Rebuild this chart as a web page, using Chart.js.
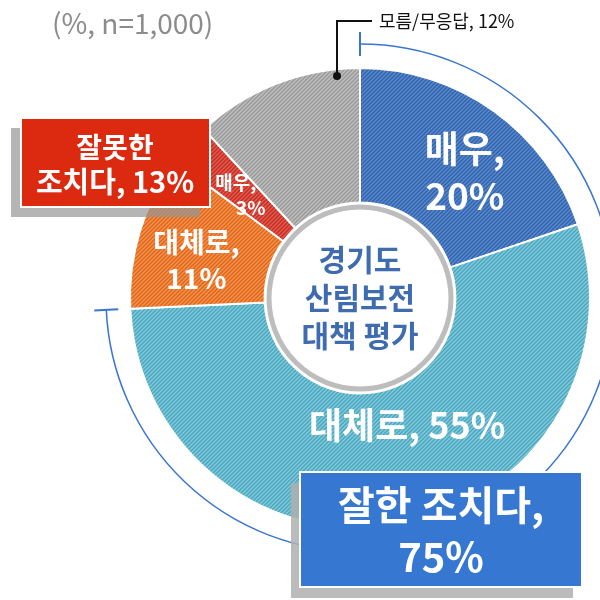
<!DOCTYPE html>
<html>
<head>
<meta charset="utf-8">
<script src="https://cdn.jsdelivr.net/npm/chart.js@4/dist/chart.umd.min.js"></script>
<style>
  html, body { margin: 0; padding: 0; background: #fff; }
  canvas { display: block; }
</style>
</head>
<body>
<canvas id="chart" width="600" height="600"></canvas>
<script>
// data
const categories = ['매우 (잘한 조치)', '대체로 (잘한 조치)', '대체로 (잘못한 조치)', '매우 (잘못한 조치)', '모름/무응답'];
const values = [20, 55, 11, 3, 12];
const groupTitles = ['잘한 조치다,', '잘못한', '조치다,'];
const groupValues = [75, 13];
const centerTitle = ['경기도', '산림보전', '대책 평가'];
const sampleNote = '(%, n=1,000)';

const FONT = "'Noto Sans CJK KR', 'Noto Sans', sans-serif";

// striped fills like the original
function stripe(base, line) {
  const c = document.createElement('canvas');
  c.width = 4; c.height = 4;
  const g = c.getContext('2d');
  g.fillStyle = base;
  g.fillRect(0, 0, 4, 4);
  g.strokeStyle = line;
  g.lineWidth = 1.4;
  g.beginPath();
  g.moveTo(-1, 5); g.lineTo(5, -1);
  g.moveTo(-1, 1); g.lineTo(1, -1);
  g.moveTo(3, 5); g.lineTo(5, 3);
  g.stroke();
  return g.createPattern(c, 'repeat');
}

const fills = [
  stripe('#3262a8', '#5a8bd2'),
  stripe('#4aa5bd', '#82cbdd'),
  stripe('#e0651a', '#f4944e'),
  stripe('#c42c24', '#e45e50'),
  stripe('#989898', '#c0c0c0')
];

// label placement relative to each slice's center point
const sliceLabels = [
  { lines: ['매우,', values[0] + '%'], size: 37, lh: 47, dx: 10, dy: 7 },
  { lines: ['대체로, ' + values[1] + '%'], size: 36, lh: 40, dx: 17, dy: -33 },
  { lines: ['대체로,', values[2] + '%'], size: 28, lh: 36, dx: -8, dy: 10 },
  { lines: ['매우,', values[3] + '%'], size: 19, lh: 25, dx: 4, dy: 6, shift: [-7, 8] },
  null
];

function txt(ctx, s, x, y, size, color, weight) {
  ctx.font = (weight || 'bold') + ' ' + size + 'px ' + FONT;
  ctx.fillStyle = color;
  ctx.textAlign = 'center';
  ctx.textBaseline = 'middle';
  ctx.fillText(s, x, y);
}

function box(ctx, x, y, w, h, color, shadow, sx, sy) {
  ctx.fillStyle = shadow;
  ctx.fillRect(x + sx, y + sy, w, h);
  ctx.fillStyle = color;
  ctx.fillRect(x, y, w, h);
  ctx.strokeStyle = '#ffffff';
  ctx.lineWidth = 2;
  ctx.strokeRect(x, y, w, h);
}

const decorations = {
  id: 'decorations',
  afterDraw(chart) {
    const ctx = chart.ctx;
    const arcs = chart.getDatasetMeta(0).data;
    const cx = arcs[0].x, cy = arcs[0].y, R = arcs[0].outerRadius;
    ctx.save();

    // bracket for the "good" group
    const br = R + 24;
    const a0 = arcs[0].startAngle, a1 = arcs[1].endAngle;
    ctx.strokeStyle = '#3a76d0';
    ctx.lineWidth = 1.5;
    ctx.beginPath();
    ctx.arc(cx, cy, br, a0, a1);
    ctx.stroke();
    [a0, a1].forEach(a => {
      ctx.beginPath();
      ctx.moveTo(cx + Math.cos(a) * (br - 12), cy + Math.sin(a) * (br - 12));
      ctx.lineTo(cx + Math.cos(a) * (br + 12), cy + Math.sin(a) * (br + 12));
      ctx.lineWidth = 2;
      ctx.stroke();
    });

    // center circle
    ctx.beginPath();
    ctx.arc(cx, cy, 91, 0, Math.PI * 2);
    ctx.fillStyle = '#ffffff';
    ctx.fill();
    ctx.lineWidth = 5;
    ctx.strokeStyle = '#bdbdbd';
    ctx.stroke();
    centerTitle.forEach((s, i) => txt(ctx, s, cx, cy - 38 + i * 38, 30, '#3e6cae'));

    // slice labels
    sliceLabels.forEach((lab, i) => {
      if (!lab) return;
      const p = arcs[i].tooltipPosition();
      const bx = p.x + lab.dx, by = p.y + lab.dy;
      const top = by - (lab.lines.length - 1) * lab.lh / 2;
      lab.lines.forEach((s, k) => {
        const sx = lab.shift ? lab.shift[k] : 0;
        txt(ctx, s, bx + sx, top + k * lab.lh, lab.size, '#ffffff');
      });
    });

    // leader for "don't know"
    const gx = cx - 23, gy = cy - R + 8;
    ctx.strokeStyle = '#111111';
    ctx.lineWidth = 2;
    ctx.beginPath();
    ctx.moveTo(gx, gy);
    ctx.lineTo(gx, 21);
    ctx.lineTo(gx + 35, 21);
    ctx.stroke();
    ctx.beginPath();
    ctx.arc(gx, gy, 4, 0, Math.PI * 2);
    ctx.fillStyle = '#111111';
    ctx.fill();
    ctx.font = '18px ' + FONT;
    ctx.textAlign = 'left';
    ctx.textBaseline = 'middle';
    ctx.fillStyle = '#111111';
    ctx.fillText(categories[4] + ', ' + values[4] + '%', gx + 42, 21);

    // group boxes
    box(ctx, 21, 118, 189, 89, '#dc2a10', 'rgba(150,150,150,0.7)', -10, 10);
    txt(ctx, groupTitles[1], 115, 147, 28, '#ffffff');
    txt(ctx, groupTitles[2] + ' ' + groupValues[1] + '%', 115, 182, 29, '#ffffff');

    box(ctx, 300, 472, 282, 115, '#3678d1', 'rgba(175,175,175,0.85)', -9, 11);
    txt(ctx, groupTitles[0], 441, 505, 40, '#ffffff');
    txt(ctx, groupValues[0] + '%', 441, 557, 40, '#ffffff');

    // sample note
    ctx.font = '28px ' + FONT;
    ctx.textAlign = 'left';
    ctx.textBaseline = 'middle';
    ctx.fillStyle = '#8c8c8c';
    ctx.fillText(sampleNote, 52, 23);

    ctx.restore();
  }
};

new Chart(document.getElementById('chart'), {
  type: 'doughnut',
  data: {
    labels: categories,
    datasets: [{
      data: values,
      backgroundColor: fills,
      borderColor: '#ffffff',
      borderWidth: 2,
      hoverOffset: 0
    }]
  },
  options: {
    responsive: false,
    animation: false,
    radius: 230,
    cutout: 95,
    layout: { padding: { left: 130, right: 10, top: 68, bottom: 72 } },
    plugins: {
      legend: { display: false },
      tooltip: { enabled: false }
    }
  },
  plugins: [decorations]
});
</script>
</body>
</html>
